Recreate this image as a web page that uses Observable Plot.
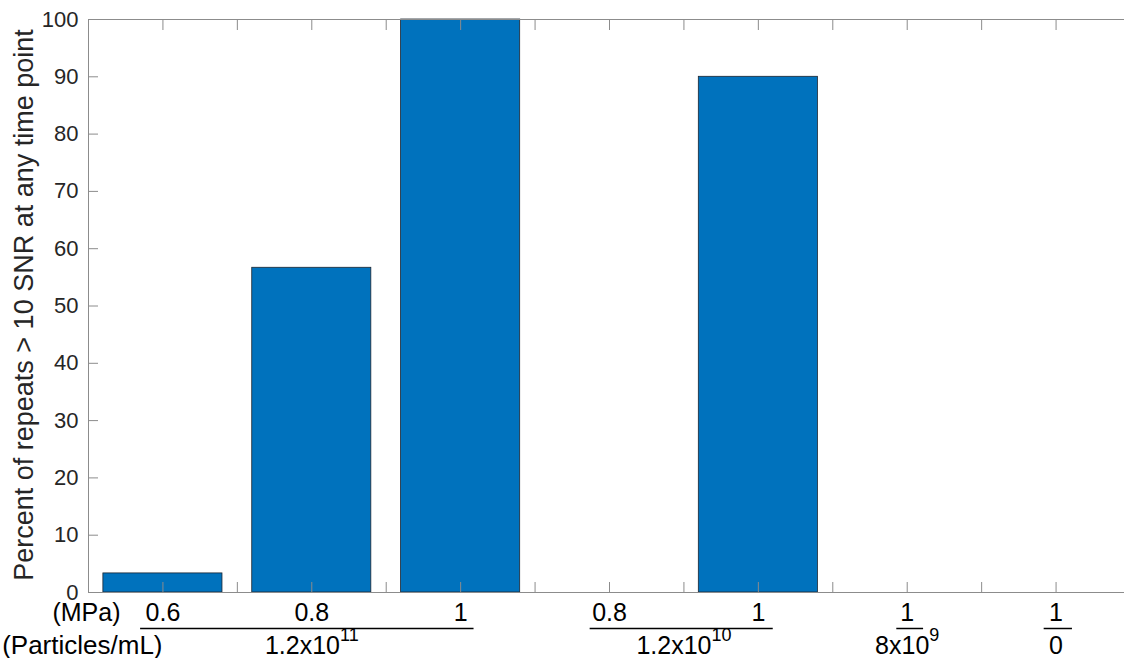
<!DOCTYPE html>
<html>
<head>
<meta charset="utf-8">
<script src="https://cdn.jsdelivr.net/npm/d3@7"></script>
<script src="https://cdn.jsdelivr.net/npm/@observablehq/plot@0.6"></script>
<style>
  html, body { margin: 0; padding: 0; background: #fff; overflow: hidden; }
  #chart { width: 1124px; height: 658px; overflow: hidden; }
</style>
</head>
<body>
<div id="chart"></div>
<script>
// ---- data ----
const categories = [1, 2, 3, 4, 5, 6, 7];
const values = [3.33, 56.67, 100, 0, 90, 0, 0];
const pressureLabels = ["0.6", "0.8", "1", "0.8", "1", "1", "1"];
const groupCenters = [2, 4.5, 6, 7];
const groupBase = ["1.2x10", "1.2x10", "8x10", "0"];
const groupExp = ["11", "10", "9", ""];
const groupStart = [0.85, 3.87, 5.93, 6.92];
const groupEnd = [3.09, 5.10, 6.11, 7.11];
const yTicks = [0, 10, 20, 30, 40, 50, 60, 70, 80, 90, 100];
const xTicks = [1, 1.5, 2, 2.5, 3, 3.5, 4, 4.5, 5, 5.5, 6, 6.5, 7];
const yTitle = "Percent of repeats > 10 SNR at any time point";
const rowTitles = ["(MPa)", "(Particles/mL)"];

const bars = categories.map((c, i) => ({pos: c, value: values[i], label: pressureLabels[i]}));
const groups = groupCenters.map((c, i) => ({center: c, base: groupBase[i], exp: groupExp[i], start: groupStart[i], end: groupEnd[i]}));

const axisGray = "#8c8c8c";
const font = "'Liberation Sans', Arial, Helvetica, sans-serif";
const labelSize = 25;

const chart = Plot.plot({
  width: 1124,
  height: 658,
  marginLeft: 88,
  marginRight: -6,
  marginTop: 19,
  marginBottom: 66,
  style: {fontFamily: font, fontSize: "22px", background: "#fff", overflow: "hidden", color: "#262626"},
  x: {type: "linear", domain: [0.5, 7.5], axis: null},
  y: {domain: [0, 100], axis: null},
  marks: [
    Plot.rectY(bars, {x1: d => d.pos - 0.4, x2: d => d.pos + 0.4, y: "value", fill: "#0072BD", stroke: "#1c2530", strokeWidth: 0.8}),
    Plot.frame({stroke: axisGray, strokeWidth: 1}),
    Plot.axisY({anchor: "left", ticks: yTicks, tickSize: -10, stroke: axisGray, fill: "none", label: null}),
    Plot.text(yTicks, {y: d => d, text: d => String(d), frameAnchor: "left", textAnchor: "end", lineAnchor: "middle", dx: -10, fontSize: 22, fill: "#262626"}),
    Plot.axisX({anchor: "bottom", ticks: xTicks, tickSize: -10, stroke: axisGray, fill: "none", label: null}),
    Plot.axisX({anchor: "top", ticks: xTicks, tickSize: -10, stroke: axisGray, fill: "none", label: null}),
    // y title
    Plot.text([yTitle], {frameAnchor: "left", text: d => d, rotate: -90, textAnchor: "middle", lineAnchor: "middle", dx: -64, dy: -1, fontSize: 27, fill: "#262626"}),
    // pressure row
    Plot.text(bars, {x: "pos", text: "label", frameAnchor: "bottom", lineAnchor: "bottom", dy: 28, fontSize: labelSize, fill: "#000"}),
    Plot.text([rowTitles[0]], {text: d => d, frameAnchor: "bottom-left", textAnchor: "end", lineAnchor: "bottom", dx: 32, dy: 28, fontSize: labelSize, fill: "#000"}),
    // underlines
    Plot.ruleY(groups, {y: () => 0, x1: "start", x2: "end", dy: 36, stroke: "#000", strokeWidth: 1.5}),
    // particle row
    Plot.text(groups, {x: "center", text: "base", frameAnchor: "bottom", lineAnchor: "bottom", dy: 61, fontSize: labelSize, fill: "#000", ariaLabel: d => "particle " + d.base}),
    Plot.text([rowTitles[1]], {text: d => d, frameAnchor: "bottom-left", textAnchor: "end", lineAnchor: "bottom", dx: 74, dy: 61, fontSize: 26, fill: "#000"})
  ]
});

// add superscript exponents to the particle labels
d3.select(chart).selectAll("text[aria-label^='particle']").each(function(_, i) {
  const e = groups[i].exp;
  if (e) {
    d3.select(this).append("tspan").attr("dy", -13).attr("font-size", 18).text(e);
  }
});

document.getElementById("chart").appendChild(chart);
</script>
</body>
</html>
